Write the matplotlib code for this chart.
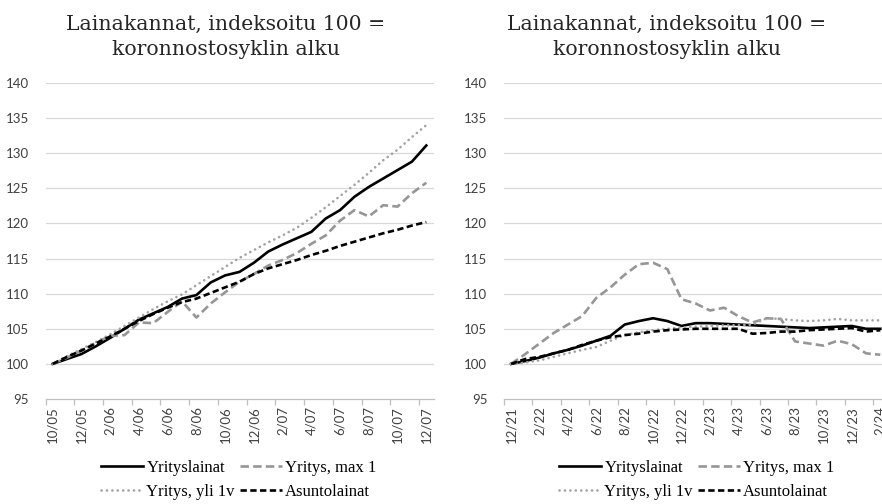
import numpy as np
import matplotlib
matplotlib.use("Agg")
import matplotlib.pyplot as plt

# Kuukaudet: vasen 10/05-12/07, oikea 12/21-2/24
left_months = ["10/05", "11/05", "12/05", "1/06", "2/06", "3/06", "4/06", "5/06", "6/06",
               "7/06", "8/06", "9/06", "10/06", "11/06", "12/06", "1/07", "2/07", "3/07",
               "4/07", "5/07", "6/07", "7/07", "8/07", "9/07", "10/07", "11/07", "12/07"]
right_months = ["12/21", "1/22", "2/22", "3/22", "4/22", "5/22", "6/22", "7/22", "8/22",
                "9/22", "10/22", "11/22", "12/22", "1/23", "2/23", "3/23", "4/23", "5/23",
                "6/23", "7/23", "8/23", "9/23", "10/23", "11/23", "12/23", "1/24", "2/24"]

# Vasen kuva (2005-2007)
l_yritys = [100, 100.7, 101.4, 102.5, 103.7, 105.0, 106.3, 107.2, 108.1, 109.3, 109.8, 111.6,
            112.6, 113.1, 114.4, 116.0, 117.0, 117.9, 118.8, 120.7, 121.9, 123.8, 125.2, 126.4,
            127.6, 128.8, 131.1]
l_max1 = [100, 100.9, 101.9, 103.0, 104.0, 104.1, 105.9, 105.8, 107.4, 108.9, 106.6, 108.6,
          110.2, 111.7, 112.8, 114.0, 114.8, 115.8, 117.1, 118.3, 120.4, 121.9, 121.0, 122.6,
          122.4, 124.3, 125.8]
l_yli1 = [100, 101.1, 102.1, 103.1, 104.2, 105.4, 106.6, 107.8, 108.9, 109.9, 111.2, 112.5,
          113.8, 115.1, 116.2, 117.3, 118.3, 119.4, 120.8, 122.3, 123.9, 125.5, 127.2, 129.0,
          130.5, 132.3, 134.0]
l_asunto = [100, 101.0, 101.9, 102.9, 103.9, 105.0, 106.1, 107.1, 108.0, 108.8, 109.3, 110.1,
            110.9, 111.7, 112.8, 113.6, 114.2, 114.8, 115.5, 116.1, 116.8, 117.4, 118.0, 118.6,
            119.1, 119.7, 120.2]

# Oikea kuva (2021-2024)
r_yritys = [100, 100.4, 100.9, 101.5, 102.0, 102.6, 103.3, 104.0, 105.6, 106.1, 106.5, 106.1,
            105.4, 105.8, 105.8, 105.7, 105.6, 105.5, 105.4, 105.3, 105.2, 105.1, 105.2, 105.3,
            105.4, 105.0, 105.0]
r_max1 = [100, 101.4, 102.9, 104.4, 105.6, 106.8, 109.4, 110.9, 112.7, 114.2, 114.4, 113.5,
          109.2, 108.6, 107.6, 108.0, 106.8, 105.9, 106.5, 106.4, 103.2, 102.9, 102.6, 103.3,
          102.8, 101.5, 101.3]
r_yli1 = [100, 100.2, 100.5, 101.0, 101.5, 102.0, 102.4, 103.3, 104.1, 104.5, 104.8, 105.0,
          105.2, 105.3, 105.4, 105.5, 105.5, 105.6, 106.5, 106.4, 106.2, 106.1, 106.2, 106.4,
          106.2, 106.2, 106.2]
r_asunto = [100, 100.7, 101.0, 101.5, 102.0, 102.7, 103.3, 103.8, 104.1, 104.3, 104.6, 104.8,
            104.9, 105.0, 105.0, 105.0, 105.0, 104.3, 104.4, 104.6, 104.6, 104.8, 104.9, 105.0,
            105.1, 104.6, 104.8]

labels = ["Yrityslainat", "Yritys, max 1", "Yritys, yli 1v", "Asuntolainat"]
title = "Lainakannat, indeksoitu 100 =\nkoronnostosyklin alku"

styles = [
    dict(color="black", lw=1.9, linestyle="-"),
    dict(color="#969696", lw=1.9, linestyle=(0, (3.2, 1.6))),
    dict(color="#a3a3a3", lw=1.9, linestyle=(0, (0.05, 2.0)), dash_capstyle="round"),
    dict(color="black", lw=1.9, linestyle=(0, (2.4, 1.3))),
]

fig = plt.figure(figsize=(8.82, 5.04), dpi=100)
ax1 = fig.add_axes([45.5 / 882, 1 - 399 / 504, 388 / 882, 316 / 504])
ax2 = fig.add_axes([504 / 882, 1 - 399 / 504, 383.4 / 882, 316 / 504])

panels = [
    (ax1, left_months, [l_yritys, l_max1, l_yli1, l_asunto], 226 / 882, 93 / 882),
    (ax2, right_months, [r_yritys, r_max1, r_yli1, r_asunto], 667 / 882, 551 / 882),
]

for ax, months, series, tx, lx in panels:
    x = np.arange(len(months))
    lines = []
    for s, st in zip(series, styles):
        ln, = ax.plot(x, s, **st)
        lines.append(ln)
    ax.set_xlim(-0.5, len(months) - 0.5)
    ax.set_ylim(95, 140)
    ax.set_yticks(range(95, 141, 5))
    for yv in range(100, 141, 5):
        ax.axhline(yv, color="#d9d9d9", lw=0.9, zorder=0)
    for sp in ["top", "right", "left"]:
        ax.spines[sp].set_visible(False)
    ax.spines["bottom"].set_color("#bfbfbf")
    ax.spines["bottom"].set_linewidth(0.9)
    ax.set_xticks(x[::2])
    ax.set_xticklabels(months[::2], rotation=90, fontsize=9.5, family="Lato", color="#404040")
    ax.set_xticks(np.arange(-0.5, len(months), 2), minor=True)
    ax.tick_params(axis="x", which="major", length=0, pad=5)
    ax.tick_params(axis="x", which="minor", length=4, color="#bfbfbf", width=0.9)
    ax.tick_params(axis="y", length=0, pad=12, labelsize=9.5, labelcolor="#404040")
    for t in ax.get_yticklabels():
        t.set_family("Lato")

    fig.text(tx, 1 - 37 / 504, title, ha="center", va="center", fontsize=14.7,
             family="DejaVu Serif", color="#262626", linespacing=1.35)

    order = [0, 2, 1, 3]
    ax.legend([lines[i] for i in order], [labels[i] for i in order], ncol=2,
              loc="center left", bbox_to_anchor=(lx, 1 - 480 / 504), bbox_transform=fig.transFigure,
              frameon=False, borderpad=0, handlelength=2.5, handletextpad=0.2,
              columnspacing=0.3, labelspacing=0.45,
              prop=dict(family="Liberation Serif", size=12))

fig.savefig("out.png", dpi=100)
